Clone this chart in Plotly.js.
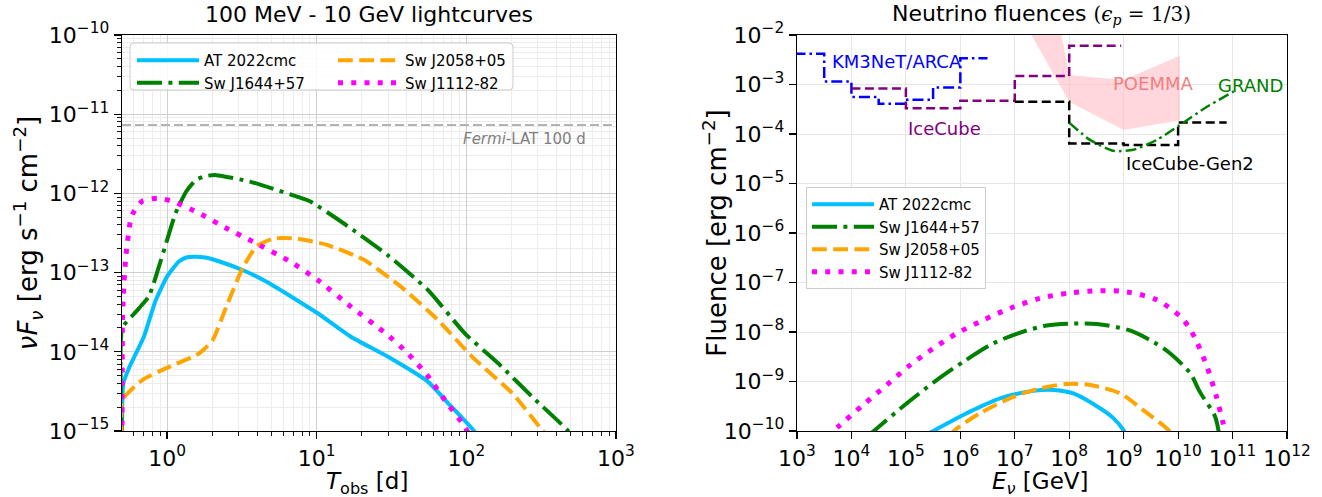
<!DOCTYPE html>
<html><head><meta charset="utf-8">
<script src="https://cdn.plot.ly/plotly-3.0.1.min.js"></script>
<style>html,body{margin:0;padding:0;background:#fff}</style>
</head><body>
<div id="chart" style="width:1322px;height:497px"></div>
<script>
// ---------- Left panel: 100 MeV - 10 GeV lightcurves ----------
const lcTimeAT   = [0.5, 0.51, 0.555, 0.70, 0.84, 1.0, 1.2, 1.35, 1.52, 1.8, 2.24, 3.22, 4.63, 10.1, 16.9, 29.8, 55.5, 75.7, 111.6, 125];
const lcFluxAT   = [7.9e-16, 3.98e-15, 6.17e-15, 1.55e-14, 4.47e-14, 8.91e-14, 1.38e-13, 1.55e-13, 1.58e-13, 1.55e-13, 1.38e-13, 1.07e-13, 7.67e-14, 3.09e-14, 1.55e-14, 8.71e-15, 4.17e-15, 2.24e-15, 1.02e-15, 7.1e-16];
const lcTimeJ1644 = [0.5, 0.502, 0.6, 0.756, 0.88, 1.0, 1.14, 1.34, 1.56, 1.82, 2.13, 3.57, 7.38, 9.07, 15.2, 29.8, 55.5, 98, 164, 276, 475, 520];
const lcFluxJ1644 = [7.9e-16, 2.0e-14, 3.0e-14, 5.0e-14, 1.17e-13, 2.57e-13, 5.62e-13, 1.05e-12, 1.48e-12, 1.66e-12, 1.70e-12, 1.41e-12, 9.1e-13, 7.9e-13, 4.17e-13, 1.66e-13, 6.0e-14, 1.70e-14, 7.1e-15, 2.69e-15, 1.02e-15, 7.9e-16];
const lcTimeJ2058 = [0.5, 0.501, 0.68, 0.98, 1.64, 2.02, 2.49, 3.22, 3.96, 5.13, 7.38, 11.7, 20.7, 36.7, 64.8, 109, 202, 322, 360];
const lcFluxJ2058 = [7.9e-16, 2.45e-15, 4.37e-15, 6.17e-15, 9.55e-15, 1.41e-14, 3.72e-14, 1.17e-13, 2.14e-13, 2.69e-13, 2.69e-13, 2.24e-13, 1.45e-13, 6.61e-14, 2.51e-14, 8.71e-15, 3.02e-15, 1.02e-15, 7.9e-16];
const lcTimeJ1112 = [0.5, 0.503, 0.51, 0.53, 0.57, 0.60, 0.68, 0.86, 1.09, 1.64, 2.49, 3.76, 6.65, 10.1, 16.9, 29, 40.7, 55.5, 71.9, 95.6, 105];
const lcFluxJ1112 = [7.9e-16, 2.09e-14, 5.25e-14, 1.58e-13, 4.57e-13, 5.89e-13, 7.94e-13, 8.71e-13, 7.94e-13, 5.62e-13, 3.63e-13, 2.45e-13, 1.38e-13, 8.13e-14, 3.72e-14, 1.70e-14, 9.55e-15, 4.90e-15, 2.45e-15, 1.20e-15, 8.9e-16];
const fermiTime = [0.5, 1000];
const fermiSens = [7.3e-12, 7.3e-12];

// ---------- Right panel: neutrino fluences ----------
const nuEnergyAT   = [2.51e5, 3.43e5, 1.31e6, 5.36e6, 2.19e7, 5.11e7, 1.19e8, 3.68e8, 6.46e8, 9.86e8, 1.12e9];
const nuFluenceAT  = [8.7e-11, 1.05e-10, 2.29e-10, 4.57e-10, 6.46e-10, 6.76e-10, 5.75e-10, 2.88e-10, 1.82e-10, 1.05e-10, 7.9e-11];
const nuEnergyJ1644  = [2.0e4, 2.71e4, 1.04e5, 3.68e5, 1.14e6, 4.04e6, 1.44e7, 3.85e7, 1.19e8, 3.20e8, 1.22e9, 3.52e9, 7.08e9, 1.66e10, 2.51e10, 4.79e10, 5.62e10];
const nuFluenceJ1644 = [7.9e-11, 1.05e-10, 3.63e-10, 1.07e-9, 2.51e-9, 5.89e-9, 1.02e-8, 1.35e-8, 1.48e-8, 1.45e-8, 1.10e-8, 6.31e-9, 3.72e-9, 1.48e-9, 6.17e-10, 1.95e-10, 8.9e-11];
const nuEnergyJ2058  = [6.31e5, 7.98e5, 2.30e6, 9.40e6, 2.91e7, 9.0e7, 2.41e8, 8.57e8, 2.29e9, 6.61e9, 7.94e9];
const nuFluenceJ2058 = [7.9e-11, 1.05e-10, 2.29e-10, 4.90e-10, 7.24e-10, 8.91e-10, 8.51e-10, 5.75e-10, 2.63e-10, 1.05e-10, 7.9e-11];
const nuEnergyJ1112  = [3.55e3, 6.17e3, 1.65e4, 4.44e4, 1.19e5, 3.19e5, 8.57e5, 2.64e6, 8.18e6, 2.91e7, 1.03e8, 3.68e8, 1.14e9, 4.05e9, 1.08e10, 1.55e10, 2.14e10, 3.39e10, 5.01e10, 6.76e10, 7.59e10];
const nuFluenceJ1112 = [7.6e-11, 1.32e-10, 3.39e-10, 8.51e-10, 2.14e-9, 4.68e-9, 9.33e-9, 1.74e-8, 3.02e-8, 4.79e-8, 6.17e-8, 6.84e-8, 6.46e-8, 4.47e-8, 2.09e-8, 1.29e-8, 6.76e-9, 2.0e-9, 5.13e-10, 1.38e-10, 7.9e-11];

// Sensitivities (step edges)
const km3netEnergy  = [9e2, 3.16e3, 1e4, 3.16e4, 1e5, 3.16e5, 1e6, 3.16e6];
const km3netFluence = [4.17e-3, 1.15e-3, 5.62e-4, 4.07e-4, 4.90e-4, 8.71e-4, 3.39e-3, 3.39e-3];
const icecubeEnergy  = [1e4, 1e5, 1e6, 1e7, 1e8, 9e8];
const icecubeFluence = [8.3e-4, 3.3e-4, 4.7e-4, 1.48e-3, 6.03e-3, 6.03e-3];
const gen2Energy  = [1e7, 1e8, 1e9, 1e10, 7.8e10];
const gen2Fluence = [4.47e-4, 6.46e-5, 6.0e-5, 1.70e-4, 1.70e-4];
const grandEnergy  = [1.02e8, 2.40e8, 6.46e8, 1.51e9, 4.07e9, 1.07e10, 3.39e10, 1.05e11];
const grandFluence = [1.66e-4, 7.6e-5, 4.57e-5, 4.79e-5, 7.6e-5, 1.51e-4, 3.55e-4, 7.24e-4];
const poemmaEnergy  = [1.58e7, 1.0e8, 1.0e9, 1.08e10, 1.08e10, 1.0e9, 1.0e8, 5.62e7];
const poemmaFluence = [1.62e-2, 4.47e-4, 1.2e-4, 1.9e-4, 3.8e-3, 1.23e-3, 1.55e-3, 4.0e-2];

const seriesNames = ['AT 2022cmc', 'Sw J1644+57', 'Sw J2058+05', 'Sw J1112-82'];

// tick labels
const leftXTicks = [1, 10, 100, 1000];
const leftXTickText = ['10<sup>0</sup>', '10<sup>1</sup>', '10<sup>2</sup>', '10<sup>3</sup>'];
const leftYTicks = [1e-15, 1e-14, 1e-13, 1e-12, 1e-11, 1e-10];
const leftYTickText = ['10<sup>−15</sup>', '10<sup>−14</sup>', '10<sup>−13</sup>', '10<sup>−12</sup>', '10<sup>−11</sup>', '10<sup>−10</sup>'];
const rightXTicks = [1e3, 1e4, 1e5, 1e6, 1e7, 1e8, 1e9, 1e10, 1e11, 1e12];
const rightXTickText = ['10<sup>3</sup>', '10<sup>4</sup>', '10<sup>5</sup>', '10<sup>6</sup>', '10<sup>7</sup>', '10<sup>8</sup>', '10<sup>9</sup>', '10<sup>10</sup>', '10<sup>11</sup>', '10<sup>12</sup>'];
const rightYTicks = [1e-10, 1e-9, 1e-8, 1e-7, 1e-6, 1e-5, 1e-4, 1e-3, 1e-2];
const rightYTickText = ['10<sup>−10</sup>', '10<sup>−9</sup>', '10<sup>−8</sup>', '10<sup>−7</sup>', '10<sup>−6</sup>', '10<sup>−5</sup>', '10<sup>−4</sup>', '10<sup>−3</sup>', '10<sup>−2</sup>'];

// minor tick positions (2..9 in each decade)
function minorVals(e0, e1) { const v = []; for (let e = e0; e < e1; e++) for (let m = 2; m < 10; m++) v.push(m * Math.pow(10, e)); return v; }

const colors = ['#00BFFF', '#008000', '#FFA500', '#FF00FF'];
const styles = [
  {width: 4, dash: 'solid'},
  {width: 4, dash: '25px,6.4px,4px,6.4px'},
  {width: 4, dash: '14.8px,6.4px'},
  {width: 5, dash: '5px,8.25px'}
];

const lcX = [lcTimeAT, lcTimeJ1644, lcTimeJ2058, lcTimeJ1112];
const lcY = [lcFluxAT, lcFluxJ1644, lcFluxJ2058, lcFluxJ1112];
const nuX = [nuEnergyAT, nuEnergyJ1644, nuEnergyJ2058, nuEnergyJ1112];
const nuY = [nuFluenceAT, nuFluenceJ1644, nuFluenceJ2058, nuFluenceJ1112];
const leftLegendOf = ['legend', 'legend', 'legend3', 'legend3'];

const traces = [];
// Fermi-LAT sensitivity
traces.push({x: fermiTime, y: fermiSens, xaxis: 'x', yaxis: 'y', mode: 'lines', showlegend: false,
  line: {color: '#b3b3b3', width: 2, dash: '9px,4px'}, hoverinfo: 'skip'});
for (let i = 0; i < 4; i++) {
  traces.push({x: lcX[i], y: lcY[i], xaxis: 'x', yaxis: 'y', mode: 'lines', name: seriesNames[i],
    legend: leftLegendOf[i], legendgroup: 'l' + i,
    line: {color: colors[i], width: styles[i].width, dash: styles[i].dash, shape: 'spline', smoothing: 0.5}});
}
// POEMMA band
traces.push({x: poemmaEnergy, y: poemmaFluence, xaxis: 'x2', yaxis: 'y2', mode: 'lines', fill: 'toself',
  fillcolor: 'rgba(255,182,193,0.55)', line: {width: 0, color: 'rgba(0,0,0,0)'}, showlegend: false, hoverinfo: 'skip'});
traces.push({x: km3netEnergy, y: km3netFluence, xaxis: 'x2', yaxis: 'y2', mode: 'lines', showlegend: false,
  line: {color: '#0000FF', width: 2.5, dash: '11px,4px,2.5px,4px', shape: 'hv'}});
traces.push({x: icecubeEnergy, y: icecubeFluence, xaxis: 'x2', yaxis: 'y2', mode: 'lines', showlegend: false,
  line: {color: '#800080', width: 2.5, dash: '9px,4.5px', shape: 'hv'}});
traces.push({x: gen2Energy, y: gen2Fluence, xaxis: 'x2', yaxis: 'y2', mode: 'lines', showlegend: false,
  line: {color: '#000000', width: 2.5, dash: '9px,4.5px', shape: 'hv'}});
traces.push({x: grandEnergy, y: grandFluence, xaxis: 'x2', yaxis: 'y2', mode: 'lines', showlegend: false,
  line: {color: '#008000', width: 2.5, dash: '11px,4px,2.5px,4px', shape: 'spline', smoothing: 0.6}});
for (let i = 0; i < 4; i++) {
  traces.push({x: nuX[i], y: nuY[i], xaxis: 'x2', yaxis: 'y2', mode: 'lines', name: seriesNames[i],
    legend: 'legend2', legendgroup: 'r' + i,
    line: {color: colors[i], width: styles[i].width, dash: styles[i].dash, shape: 'spline', smoothing: 0.8}});
}

const font = 'DejaVu Sans, Arial, sans-serif';
const W = 1165, H = 396;
function px2paperX(px) { return (px - 122) / W; }
function px2paperY(py) { return 1 - (py - 35) / H; }

function axisBase() {
  return {type: 'log', showline: true, linecolor: '#000', linewidth: 1.3, mirror: true,
    ticks: 'outside', ticklen: 7, tickwidth: 1.2, tickcolor: '#000', tickmode: 'array',
    tickfont: {family: font, size: 22, color: '#000'}, zeroline: false, automargin: false};
}

const xaxis = Object.assign(axisBase(), {domain: [0, 0.4240], range: [Math.log10(0.5), 3],
  tickvals: leftXTicks, ticktext: leftXTickText, gridcolor: '#cfcfcf', gridwidth: 1,
  minor: {tickmode: 'array', tickvals: minorVals(-1, 3).filter(v => v > 0.5), ticks: 'outside', ticklen: 4, tickwidth: 0.9, tickcolor: '#000', showgrid: true, gridcolor: '#ececec', gridwidth: 1}});
const yaxis = Object.assign(axisBase(), {domain: [0, 1], range: [-15, -10], anchor: 'x',
  tickvals: leftYTicks, ticktext: leftYTickText, gridcolor: '#cfcfcf', gridwidth: 1,
  minor: {tickmode: 'array', tickvals: minorVals(-15, -10), ticks: 'outside', ticklen: 4, tickwidth: 0.9, tickcolor: '#000', showgrid: true, gridcolor: '#ececec', gridwidth: 1},
  title: {text: '<i>νF</i><sub><i>ν</i></sub> [erg s<sup>−1</sup> cm<sup>−2</sup>]', font: {family: font, size: 26, color: '#000'}}});
const xaxis2 = Object.assign(axisBase(), {domain: [0.5794, 1], range: [3, 12], anchor: 'y2',
  tickvals: rightXTicks, ticktext: rightXTickText, gridcolor: '#e6e6e6', gridwidth: 1});
const yaxis2 = Object.assign(axisBase(), {domain: [0, 1], range: [-10, -2], anchor: 'x2',
  tickvals: rightYTicks, ticktext: rightYTickText, gridcolor: '#e6e6e6', gridwidth: 1,
  title: {text: 'Fluence [erg cm<sup>−2</sup>]', font: {family: font, size: 26, color: '#000'}}});

// rounded legend box for left panel
const bx0 = px2paperX(130), bx1 = px2paperX(513), by0 = px2paperY(90), by1 = px2paperY(43);
const rx = 4 / W, ry = 4 / H;
const boxPath = `M${bx0+rx},${by1} L${bx1-rx},${by1} Q${bx1},${by1} ${bx1},${by1-ry} L${bx1},${by0+ry} Q${bx1},${by0} ${bx1-rx},${by0} L${bx0+rx},${by0} Q${bx0},${by0} ${bx0},${by0+ry} L${bx0},${by1-ry} Q${bx0},${by1} ${bx0+rx},${by1} Z`;

const legendFont = {family: font, size: 15, color: '#000'};
const layout = {
  width: 1322, height: 497,
  margin: {l: 122, r: 35, t: 35, b: 66},
  paper_bgcolor: '#fff', plot_bgcolor: '#fff',
  showlegend: true,
  xaxis, yaxis, xaxis2, yaxis2,
  legend: {x: px2paperX(132), y: px2paperY(44), xanchor: 'left', yanchor: 'top', bgcolor: 'rgba(0,0,0,0)',
    borderwidth: 0, font: legendFont, itemwidth: 62, tracegroupgap: 0},
  legend3: {x: px2paperX(333), y: px2paperY(44), xanchor: 'left', yanchor: 'top', bgcolor: 'rgba(0,0,0,0)',
    borderwidth: 0, font: legendFont, itemwidth: 62, tracegroupgap: 0},
  legend2: {x: px2paperX(806), y: px2paperY(187), xanchor: 'left', yanchor: 'top', bgcolor: 'rgba(255,255,255,0.85)',
    bordercolor: '#cccccc', borderwidth: 1, font: legendFont, itemwidth: 62, tracegroupgap: 0},
  shapes: [{type: 'path', xref: 'paper', yref: 'paper', path: boxPath, fillcolor: 'rgba(255,255,255,0.85)',
    line: {color: '#cccccc', width: 1}, layer: 'above'}],
  annotations: [
    {text: '100 MeV - 10 GeV lightcurves', xref: 'paper', yref: 'paper', x: px2paperX(369), y: px2paperY(15),
      xanchor: 'center', yanchor: 'middle', showarrow: false, font: {family: font, size: 22, color: '#000'}},
    {text: 'Neutrino fluences <span style="font-family:DejaVu Serif, serif;font-size:20px">(<i>ϵ</i><sub><i>p</i></sub> = 1/3)</span>', xref: 'paper', yref: 'paper',
      x: px2paperX(1041), y: px2paperY(15), xanchor: 'center', yanchor: 'middle', showarrow: false,
      font: {family: font, size: 22, color: '#000'}},
    // x-axis titles
    {text: '<i>T</i><sub>obs</sub> [d]', xref: 'paper', yref: 'paper', x: px2paperX(367), y: px2paperY(483),
      xanchor: 'center', yanchor: 'middle', showarrow: false, font: {family: font, size: 23, color: '#000'}},
    {text: '<i>E</i><sub><i>ν</i></sub> [GeV]', xref: 'paper', yref: 'paper', x: px2paperX(1040), y: px2paperY(483),
      xanchor: 'center', yanchor: 'middle', showarrow: false, font: {family: font, size: 23, color: '#000'}},
    {text: '<i>Fermi</i>-LAT 100 d', xref: 'x', yref: 'y', x: 2.8127, y: -11.317, xanchor: 'right', yanchor: 'middle',
      showarrow: false, font: {family: font, size: 15, color: '#808080'}},
    {text: 'KM3NeT/ARCA', xref: 'x2', yref: 'y2', x: 4.837, y: -2.535, xanchor: 'center', yanchor: 'middle',
      showarrow: false, font: {family: font, size: 18, color: '#0000FF'}},
    {text: 'IceCube', xref: 'x2', yref: 'y2', x: 5.70, y: -3.88, xanchor: 'center', yanchor: 'middle',
      showarrow: false, font: {family: font, size: 18, color: '#800080'}},
    {text: 'POEMMA', xref: 'x2', yref: 'y2', x: 9.54, y: -2.975, xanchor: 'center', yanchor: 'middle',
      showarrow: false, font: {family: font, size: 18, color: '#F08080'}},
    {text: 'GRAND', xref: 'x2', yref: 'y2', x: 11.33, y: -3.03, xanchor: 'center', yanchor: 'middle',
      showarrow: false, font: {family: font, size: 18, color: '#008000'}},
    {text: 'IceCube-Gen2', xref: 'x2', yref: 'y2', x: 10.22, y: -4.59, xanchor: 'center', yanchor: 'middle',
      showarrow: false, font: {family: font, size: 18, color: '#000'}}
  ]
};

Plotly.newPlot('chart', traces, layout, {displayModeBar: false, staticPlot: true});
</script>
</body></html>
